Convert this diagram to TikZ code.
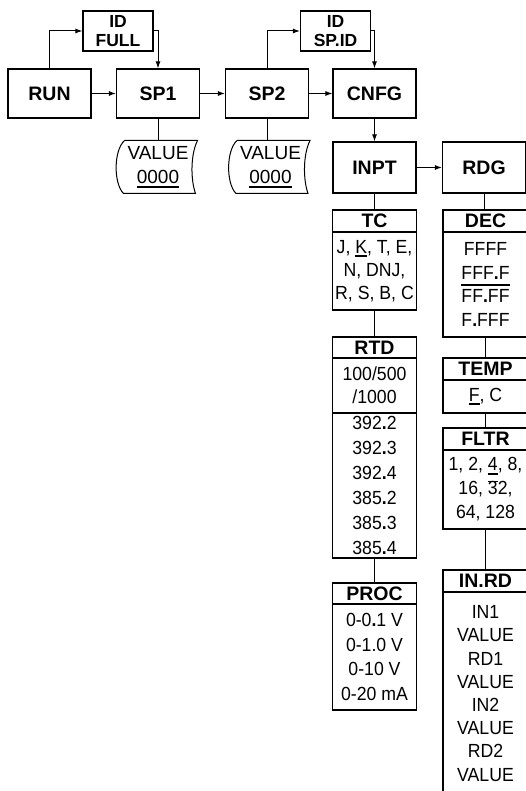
\documentclass[tikz,border=0pt]{standalone}
\usepackage{fontspec}
\setmainfont{Liberation Sans}
\newfontfamily\bodyfont{Liberation Sans}[FakeStretch=0.93]
\usetikzlibrary{arrows.meta,positioning}
\newcommand{\ulbar}[2][-4pt]{\leavevmode\setbox0\hbox{#2}\rlap{\rule[#1]{\wd0}{2.2pt}}\box0\relax}
\newcommand{\olthin}[1]{\leavevmode\setbox0\hbox{#1}\rlap{\rule[13.6pt]{\wd0}{0.6pt}}\box0\relax}
\newcommand{\bdot}{\textbf{.}}
\newcommand{\valoutline}[1]{%
  \draw[line width=1pt] ([xshift=6pt]#1.north west) -- (#1.north east)
    .. controls ([xshift=-7pt,yshift=-14pt]#1.north east) and ([xshift=-7pt,yshift=14pt]#1.south east) .. ([xshift=-2pt]#1.south east)
    -- ([xshift=5pt]#1.south west)
    .. controls ([xshift=-5pt,yshift=10pt]#1.south west) and ([xshift=-5pt,yshift=-10pt]#1.north west) .. ([xshift=6pt]#1.north west);}
\tikzset{
  box/.style={draw, line width=1.2pt, minimum width=83pt, minimum height=49pt, inner sep=0pt,
    font=\fontsize{19.5}{22}\selectfont\bfseries},
  idbox/.style={draw, line width=1.2pt, minimum width=70pt, minimum height=40pt, inner sep=0pt,
    font=\fontsize{17.5}{19}\selectfont\bfseries},
  valbox/.style={minimum width=78pt, minimum height=52pt, inner sep=0pt,
    font=\fontsize{19}{24}\selectfont},
  hdr/.style={draw, line width=1.2pt, minimum width=84pt, minimum height=22pt, inner sep=0pt,
    font=\fontsize{19.5}{22}\selectfont\bfseries},
  body/.style={draw, line width=1.2pt, minimum width=84pt, inner sep=0pt,
    font=\bodyfont\fontsize{19}{24}\selectfont},
  rcol/.style={minimum width=85pt}
}
\begin{document}
\begin{tikzpicture}[x=1pt, y=-1pt, line width=1pt, >={Latex[length=7pt,width=5pt]},
    every node/.style={align=center}]
  \useasboundingbox (0,0) rectangle (526,791);
  \clip (0,0) rectangle (526,791);
  % top row
  \node[box] (run) at (49.5,93.5) {RUN};
  \node[box] (sp1) at (158,93.5) {SP1};
  \node[box] (sp2) at (267,93.5) {SP2};
  \node[box] (cnfg) at (374.5,93.5) {CNFG};
  \node[idbox] (idfull) at (118,31) {ID\\FULL};
  \node[idbox] (idspid) at (335.5,31) {ID\\SP.ID};
  \node[valbox] (val1) at (158,167) {VALUE\\\ulbar[-5pt]{0000}};
  \node[valbox] (val2) at (270.5,167) {VALUE\\\ulbar[-5pt]{0000}};
  \valoutline{val1}
  \valoutline{val2}
  \node[box, minimum height=51pt] (inpt) at (374.5,167.5) {INPT};
  \node[box, minimum height=51pt] (rdg) at (484,167.5) {RDG};
  % input column
  \node[hdr] (tchd) at (374.5,221) {TC};
  \node[body, minimum height=78pt, font=\bodyfont\fontsize{19}{23}\selectfont] (tc) at (374.5,271)
    {J, \ulbar{K}, T, E,\\N, DNJ,\\R, S, B, C};
  \node[hdr, minimum height=21pt] (rtdhd) at (374.5,347.5) {RTD};
  \node[body, minimum height=55pt, font=\bodyfont\fontsize{19}{23}\selectfont] (rtda) at (374.5,385.5)
    {100/500\\/1000};
  \node[body, minimum height=145pt, font=\bodyfont\fontsize{19}{25}\selectfont] (rtdb) at (374.5,485.5)
    {392\bdot2\\392\bdot3\\392\bdot4\\385\bdot2\\385\bdot3\\385\bdot4};
  \node[hdr, minimum height=21pt] (prochd) at (374.5,593.5) {PROC};
  \node[body, minimum height=106pt, font=\bodyfont\fontsize{19}{24.5}\selectfont] (proc) at (374.5,657)
    {0-0\bdot1 V\\0-1.0 V\\0-10 V\\0-20 mA};
  % reading column
  \node[hdr, rcol] (dechd) at (485.5,221) {DEC};
  \node[body, rcol, minimum height=105pt, font=\bodyfont\fontsize{19}{23.5}\selectfont] (dec) at (485.5,284.5)
    {FFFF\\\ulbar[-6.5pt]{FFF\bdot F}\\FF\bdot FF\\F\bdot FFF};
  \node[hdr, rcol] (temphd) at (485.5,369) {TEMP};
  \node[body, rcol, minimum height=33pt] (temp) at (485.5,396.5) {\ulbar{F}, C};
  \node[hdr, rcol] (fltrhd) at (485.5,439) {FLTR};
  \node[body, rcol, minimum height=79pt] (fltr) at (485.5,489.5)
    {1, 2, \ulbar{4}, 8,\\16, \olthin{3}2,\\64, 128};
  \node[hdr, rcol] (inrdhd) at (485.5,581) {IN.RD};
  \node[body, rcol, anchor=north, inner ysep=13pt, font=\bodyfont\fontsize{19}{23.2}\selectfont] (inrd) at (485.5,592)
    {IN1\\VALUE\\RD1\\VALUE\\IN2\\VALUE\\RD2\\VALUE};
  % arrows
  \draw[->] (run) -- (sp1);
  \draw[->] (sp1) -- (sp2);
  \draw[->] (sp2) -- (cnfg);
  \draw[->] (run.north) |- (idfull);
  \draw[->] (idfull) -| (sp1.north);
  \draw[->] (sp2.north) |- (idspid);
  \draw[->] (idspid) -| (cnfg.north);
  \draw[->] (cnfg) -- (inpt);
  \draw[->] (inpt) -- (rdg);
  % plain links
  \draw (sp1) -- (val1);
  \draw (sp2.south) -- (sp2.south |- val2.north);
  \draw (inpt) -- (tchd);
  \draw (tc) -- (rtdhd);
  \draw (rtdb) -- (prochd);
  \draw (rdg.south) -- (rdg.south |- dechd.north);
  \draw (dec) -- (temphd);
  \draw (temp) -- (fltrhd);
  \draw (fltr) -- (inrdhd);
\end{tikzpicture}
\end{document}
